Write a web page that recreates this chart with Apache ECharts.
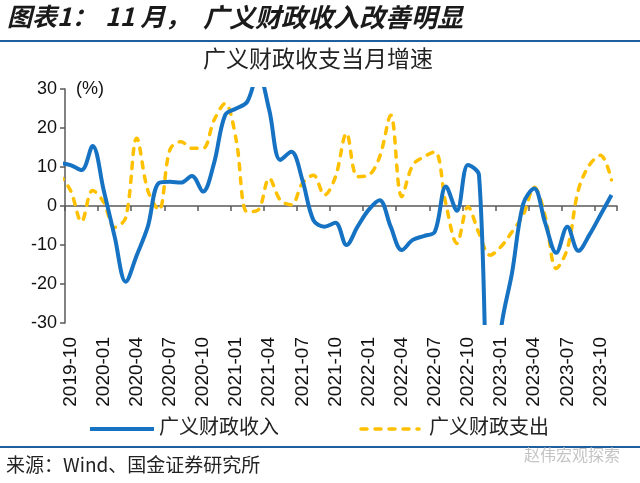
<!DOCTYPE html>
<html>
<head>
<meta charset="utf-8">
<script src="https://cdn.jsdelivr.net/npm/echarts@6/dist/echarts.min.js"></script>
<style>
  html, body { margin: 0; padding: 0; background: #fff; }
  #chart { width: 640px; height: 483px; }
</style>
</head>
<body>
<div id="chart"></div>
<script>
// ---- data ----
const categories = [
  '2019-10','2019-11','2019-12','2020-01','2020-02','2020-03','2020-04','2020-05','2020-06','2020-07','2020-08','2020-09',
  '2020-10','2020-11','2020-12','2021-01','2021-02','2021-03','2021-04','2021-05','2021-06','2021-07','2021-08','2021-09',
  '2021-10','2021-11','2021-12','2022-01','2022-02','2022-03','2022-04','2022-05','2022-06','2022-07','2022-08','2022-09',
  '2022-10','2022-11','2022-12','2023-01','2023-02','2023-03','2023-04','2023-05','2023-06','2023-07','2023-08','2023-09',
  '2023-10','2023-11'
];
// value of the month before the first label (line runs in from the left edge)
const revenuePrev = 11;
const spendingPrev = 8;
const revenue = [
  10.5, 9.2, 15.4, 4.1, -7.9, -19.4, -12.6, -5.3, 5.9, 6.2, 6.0, 7.7,
  3.7, 11.0, 23.3, 25.0, 26.7, 34.0, 24.6, 11.8, 13.9, 6.7, -3.6, -5.3,
  -4.3, -10.0, -5.3, -1.0, 1.5, -5.3, -11.3, -8.7, -7.7, -6.6, 5.0, -1.2,
  10.5, 7.9, -65.0, -31.5, -17.0, 0.5, 4.5, -4.4, -12.0, -5.3, -11.5, -7.4,
  -2.3, 2.8
];
const spending = [
  4.0, -4.0, 4.0, 1.0, -5.5, -3.0, 17.4, 4.0, -1.0, 14.4, 16.5, 14.8,
  14.8, 22.0, 26.3, 17.0, -1.5, -1.0, 7.1, 1.5, 0.3, 5.8, 7.9, 2.8,
  7.5, 18.6, 7.5, 7.9, 12.6, 23.3, 2.4, 10.5, 12.6, 13.9, 0.5, -9.6,
  -0.2, -7.0, -12.6, -10.4, -6.6, -2.3, 4.8, -2.7, -16.0, -11.0, 4.1, 10.5,
  13.0, 6.7
];
const yTicks = [-30, -20, -10, 0, 10, 20, 30];

const titleParts = ['图表1：', '11 月，', '广义财政收入改善明显'];
const subTitle = '广义财政收支当月增速';
const unitLabel = '(%)';
const seriesNames = ['广义财政收入', '广义财政支出'];
const sourceText = '来源：Wind、国金证券研究所';
const watermark = '赵伟宏观探索';

// ---- build ----
const toPairs = (prev, arr) => [[-1, prev]].concat(arr.map((v, i) => [i, v]));

const BLUE = '#1672c2';
const YELLOW = '#FFC000';
const RULE = '#1f5f9e';
const AXIS = '#595959';
const CJK = '"Noto Sans CJK SC", sans-serif';
const LAT = '"Liberation Sans", Arial, sans-serif';
const TITLE_FONT = 'italic bold 25px ' + CJK;

const chart = echarts.init(document.getElementById('chart'), null, { renderer: 'canvas' });

chart.setOption({
  animation: false,
  backgroundColor: '#fff',
  grid: { left: 65, right: 23, top: 89, bottom: 160, containLabel: false },
  xAxis: [
    {
      type: 'category', data: categories, position: 'bottom', boundaryGap: true,
      axisLine: { show: false, onZero: false }, axisTick: { show: false },
      axisLabel: { interval: 2, rotate: 90, margin: 14, fontSize: 19, color: '#111', fontFamily: LAT }
    },
    {
      type: 'category', data: categories, position: 'bottom', boundaryGap: true,
      axisLine: { show: true, onZero: true, lineStyle: { color: AXIS, width: 1.5 } },
      axisTick: { show: true, interval: 2, length: 5, inside: false, lineStyle: { color: AXIS, width: 1.5 } },
      axisLabel: { show: false }
    },
    { type: 'value', min: -0.5, max: 49.5, show: false }
  ],
  yAxis: {
    type: 'value', min: yTicks[0], max: yTicks[yTicks.length - 1], interval: 10,
    axisLine: { show: true, onZero: false, lineStyle: { color: AXIS, width: 1.5 } },
    axisTick: { show: true, length: 5, lineStyle: { color: AXIS, width: 1.5 } },
    splitLine: { show: false },
    axisLabel: { fontSize: 18, color: '#111', fontFamily: LAT, margin: 8 }
  },
  series: [
    {
      name: seriesNames[1], type: 'line', xAxisIndex: 2, data: toPairs(spendingPrev, spending),
      smooth: 0.35, showSymbol: false, symbol: 'none', clip: true,
      lineStyle: { color: YELLOW, width: 3.5, type: [6, 8], cap: 'round' }, z: 2
    },
    {
      name: seriesNames[0], type: 'line', xAxisIndex: 2, data: toPairs(revenuePrev, revenue),
      smooth: 0.35, showSymbol: false, symbol: 'none', clip: true,
      lineStyle: { color: BLUE, width: 4 }, z: 3
    }
  ],
  graphic: [
    { type: 'text', left: 7, top: 4, style: { text: titleParts[0], font: TITLE_FONT, fill: '#1a1a1a' } },
    { type: 'text', left: 105, top: 4, style: { text: titleParts[1], font: TITLE_FONT, fill: '#1a1a1a' } },
    { type: 'text', left: 203, top: 4, style: { text: titleParts[2], font: 'italic bold 26px ' + CJK, fill: '#1a1a1a' } },
    { type: 'rect', shape: { x: 0, y: 40, width: 640, height: 2 }, style: { fill: RULE } },
    { type: 'text', left: 203, top: 47, style: { text: subTitle, font: '23px ' + CJK, fill: '#222' } },
    { type: 'text', left: 76, top: 80, style: { text: unitLabel, font: '18px ' + LAT, fill: '#111' } },
    { type: 'line', shape: { x1: 90, y1: 429, x2: 154, y2: 429 }, style: { stroke: BLUE, lineWidth: 4 } },
    { type: 'text', left: 159, top: 416, style: { text: seriesNames[0], font: '20px ' + CJK, fill: '#222' } },
    { type: 'line', shape: { x1: 361, y1: 429, x2: 419, y2: 429 }, style: { stroke: YELLOW, lineWidth: 3.5, lineDash: [6, 8], lineCap: 'round' } },
    { type: 'text', left: 429, top: 416, style: { text: seriesNames[1], font: '20px ' + CJK, fill: '#222' } },
    { type: 'rect', shape: { x: 0, y: 446, width: 640, height: 2 }, style: { fill: RULE } },
    { type: 'text', left: 6, top: 455, style: { text: sourceText, font: '19px ' + CJK, fill: '#222' } },
    { type: 'text', left: 524, top: 447, style: { text: watermark, font: '16px ' + CJK, fill: '#c4c4c4' } }
  ]
});
</script>
</body>
</html>
